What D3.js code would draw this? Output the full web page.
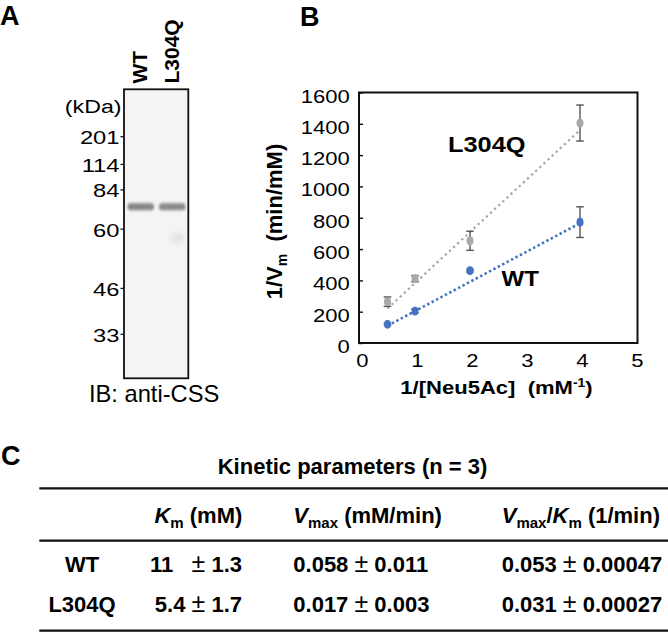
<!DOCTYPE html>
<html><head><meta charset="utf-8">
<script src="https://cdn.jsdelivr.net/npm/d3@7"></script>
<style>
body{margin:0;background:#fff}
svg{display:block}
text{font-family:'Liberation Sans',Arial,Helvetica,sans-serif;white-space:pre}
</style>
</head><body>
<svg id="fig" width="668" height="633"></svg>
<script>
// ---------- Panel A data (western blot) ----------
const gelLanes = ["WT", "L304Q"];
const markerKDa = [201, 114, 84, 60, 46, 33];
const markerRf = [0.164, 0.260, 0.348, 0.484, 0.689, 0.848];
const bandRf = [0.406, 0.406];
const bandDarkness = [0.6, 0.58];
const smearRf = [0, 0.515];
const smearDarkness = [0, 0.07];

// ---------- Panel B data (Lineweaver-Burk) ----------
const invSubstrate = [0.5, 1, 2, 4];
const wtInvV = [119, 204, 462, 772];
const wtErr = [6, 12, 8, 98];
const mutInvV = [264, 411, 653, 1405];
const mutErr = [30, 20, 61, 115];
const trendX = [0.5, 4];
const wtTrendY = [110, 765];
const mutTrendY = [220, 1360];
const xTicks = [0, 1, 2, 3, 4, 5];
const yTicks = [0, 200, 400, 600, 800, 1000, 1200, 1400, 1600];

// ---------- Panel C data (table) ----------
const tableTitle = "Kinetic parameters (n = 3)";
const rowNames = ["WT", "L304Q"];
const kmVal = ["11", "5.4"];
const kmErr = ["1.3", "1.7"];
const vmaxVal = ["0.058", "0.017"];
const vmaxErr = ["0.011", "0.003"];
const effVal = ["0.053", "0.031"];
const effErr = ["0.00047", "0.00027"];

const svg = d3.select("#fig");
const defs = svg.append("defs");
defs.append("filter").attr("id", "blurBand").attr("x", "-20%").attr("y", "-150%").attr("width", "140%").attr("height", "400%")
  .append("feGaussianBlur").attr("stdDeviation", "1.2 1.6");
defs.append("filter").attr("id", "blurSmear").attr("x", "-40%").attr("y", "-150%").attr("width", "180%").attr("height", "400%")
  .append("feGaussianBlur").attr("stdDeviation", "2 3");

function label(g, x, y, str, o) {
  o = o || {};
  return g.append("text")
    .attr("transform", `translate(${x},${y}) scale(${o.sx || 1},1)`)
    .attr("font-size", o.size || 19)
    .attr("font-weight", o.weight || 400)
    .attr("text-anchor", o.anchor || "start")
    .attr("fill", "#000")
    .text(str);
}

// Panel letters
label(svg, 0, 25, "A", {size: 27, weight: 700});
label(svg, 300, 26, "B", {size: 27, weight: 700});
label(svg, 1, 465, "C", {size: 27, weight: 700});

// ================= Panel A =================
const gA = svg.append("g");
const gelTop = 89.3, gelBottom = 378.3, gelLeft = 124, gelRight = 188.3;
const gy = d3.scaleLinear().domain([0, 1]).range([gelTop, gelBottom]);
const lane = d3.scaleBand().domain(gelLanes).range([127, 186]).paddingInner(0.13);

gA.append("rect").attr("x", gelLeft).attr("y", gelTop)
  .attr("width", gelRight - gelLeft).attr("height", gelBottom - gelTop)
  .attr("fill", "#f4f4f4").attr("stroke", "none");

gelLanes.forEach((ln, i) => {
  if (smearDarkness[i] > 0) {
    gA.append("ellipse").attr("cx", lane(ln) + lane.bandwidth() / 2 + 5).attr("cy", gy(smearRf[i]))
      .attr("rx", lane.bandwidth() / 2 - 6).attr("ry", 5)
      .attr("fill", "#000").attr("opacity", smearDarkness[i]).attr("filter", "url(#blurSmear)");
  }
  gA.append("rect").attr("x", lane(ln) + 0.5).attr("y", gy(bandRf[i]) - 3.5)
    .attr("width", lane.bandwidth() - 1).attr("height", 7).attr("rx", 3)
    .attr("fill", "#3a3a3a").attr("opacity", bandDarkness[i]).attr("filter", "url(#blurBand)");
});

gA.append("rect").attr("x", gelLeft).attr("y", gelTop)
  .attr("width", gelRight - gelLeft).attr("height", gelBottom - gelTop)
  .attr("fill", "none").attr("stroke", "#111").attr("stroke-width", 1.8);

gelLanes.forEach(ln => {
  gA.append("text")
    .attr("transform", `translate(${lane(ln) + lane.bandwidth() / 2 + 6.5},83.5) rotate(-90)`)
    .attr("font-size", 21).attr("font-weight", 700).text(ln);
});

markerKDa.forEach((m, i) => {
  const yy = gy(markerRf[i]);
  gA.append("line").attr("x1", 120.5).attr("x2", gelLeft).attr("y1", yy).attr("y2", yy)
    .attr("stroke", "#111").attr("stroke-width", 1.3);
  label(gA, 119.5, yy + 7.6, String(m), {size: 19, sx: 1.25, anchor: "end"});
});
label(gA, 121.5, 113, "(kDa)", {size: 19, sx: 1.22, anchor: "end"});
label(gA, 89, 402, "IB: anti-CSS", {size: 23, sx: 1.03});

// ================= Panel B =================
const gB = svg.append("g");
const x = d3.scaleLinear().domain([0, 5]).range([360, 635]);
const y = d3.scaleLinear().domain([0, 1600]).range([343, 92.5]);
const SX = 1.16;
const fmt = d3.format("d");

const ya = gB.append("g").attr("transform", `translate(${x(0) - 1},0)`)
  .call(d3.axisLeft(y).tickValues(yTicks).tickFormat(fmt).tickSize(-4).tickPadding(8));
ya.select(".domain").remove();
ya.attr("font-family", null);
ya.selectAll(".tick line").attr("stroke", "#111").attr("stroke-width", 1.4);
ya.selectAll(".tick text").attr("font-size", 19).attr("fill", "#000")
  .attr("dy", "0.5em").attr("transform", `scale(${SX},1)`);

const xa = gB.append("g").attr("transform", `translate(0,${y(0)})`)
  .call(d3.axisBottom(x).tickValues(xTicks).tickFormat(fmt).tickSize(0).tickPadding(11));
xa.select(".domain").remove();
xa.attr("font-family", null);
xa.selectAll(".tick text").attr("font-size", 19).attr("fill", "#000")
  .attr("transform", `translate(2,0) scale(${SX},1)`);

gB.append("rect").attr("x", x(0) - 1).attr("y", y(1600))
  .attr("width", x(5) + 2.5 - (x(0) - 1)).attr("height", y(0) - y(1600))
  .attr("fill", "none").attr("stroke", "#111").attr("stroke-width", 2);

const line = d3.line().x(d => x(d[0])).y(d => y(d[1]));
gB.append("path").datum(trendX.map((t, i) => [t, mutTrendY[i]]))
  .attr("d", line).attr("fill", "none").attr("stroke", "#a3a3a3")
  .attr("stroke-width", 2.2).attr("stroke-dasharray", "2.2 3.4");
gB.append("path").datum(trendX.map((t, i) => [t, wtTrendY[i]]))
  .attr("d", line).attr("fill", "none").attr("stroke", "#4472c4")
  .attr("stroke-width", 2.6).attr("stroke-dasharray", "2.4 2.6");

function series(means, errs, color) {
  const g = gB.append("g");
  const data = invSubstrate.map((c, i) => ({c, m: means[i], e: errs[i]}));
  const eb = g.selectAll(".eb").data(data).enter().append("g");
  eb.append("line").attr("x1", d => x(d.c)).attr("x2", d => x(d.c))
    .attr("y1", d => y(d.m - d.e)).attr("y2", d => y(d.m + d.e))
    .attr("stroke", "#555").attr("stroke-width", 1.4);
  [1, -1].forEach(s => {
    eb.append("line").attr("x1", d => x(d.c) - 3.8).attr("x2", d => x(d.c) + 3.8)
      .attr("y1", d => y(d.m + s * d.e)).attr("y2", d => y(d.m + s * d.e))
      .attr("stroke", "#555").attr("stroke-width", 1.4);
  });
  g.selectAll("ellipse").data(data).enter().append("ellipse")
    .attr("cx", d => x(d.c)).attr("cy", d => y(d.m))
    .attr("rx", 3.5).attr("ry", 4.4).attr("fill", color);
}
series(mutInvV, mutErr, "#a9a9a9");
series(wtInvV, wtErr, "#4472c4");

label(gB, 448, 152, "L304Q", {size: 21.5, weight: 700, sx: 1.18});
label(gB, 501.5, 286, "WT", {size: 21.5, weight: 700, sx: 1.12});

const yt = gB.append("text").attr("transform", "translate(281.5,221.5) rotate(-90)")
  .attr("text-anchor", "middle").attr("font-size", 22).attr("font-weight", 700);
yt.append("tspan").text("1/V");
yt.append("tspan").attr("font-size", 14).attr("dy", 5).text("m");
yt.append("tspan").attr("dy", -5).text("  (min/mM)");

const xt = gB.append("text").attr("transform", `translate(496.5,394) scale(${SX},1)`)
  .attr("text-anchor", "middle").attr("font-size", 19).attr("font-weight", 700);
xt.append("tspan").text("1/[Neu5Ac]  (mM");
xt.append("tspan").attr("font-size", 12).attr("dy", -7).text("-1");
xt.append("tspan").attr("dy", 7).text(")");

// ================= Panel C =================
const gC = svg.append("g");
label(gC, 352.5, 474.3, tableTitle, {size: 22, weight: 700, anchor: "middle"});
[488.3, 540.7, 630.7].forEach(yy => {
  gC.append("line").attr("x1", 39.3).attr("x2", 668).attr("y1", yy).attr("y2", yy)
    .attr("stroke", "#111").attr("stroke-width", 2.2);
});

function headerCell(xx, anchor, parts) {
  const t = gC.append("text").attr("x", xx).attr("y", 522.5).attr("text-anchor", anchor)
    .attr("font-size", 22).attr("font-weight", 700);
  let shift = 0;
  parts.forEach(p => {
    const ts = t.append("tspan").text(p.t);
    if (p.i) ts.attr("font-style", "italic");
    const target = p.sub ? 5 : 0;
    if (target !== shift) { ts.attr("dy", target - shift); shift = target; }
    if (p.sub) ts.attr("font-size", 15);
  });
}
headerCell(242.3, "end", [{t: "K", i: 1}, {t: "m", sub: 1}, {t: " (mM)"}]);
headerCell(293.3, "start", [{t: "V", i: 1}, {t: "max", sub: 1}, {t: " (mM/min)"}]);
headerCell(501.7, "start", [{t: "V", i: 1}, {t: "max", sub: 1}, {t: "/"}, {t: "K", i: 1}, {t: "m", sub: 1}, {t: " (1/min)"}]);

const maxKmLen = d3.max(kmVal, v => v.length);
const rowY = d3.scalePoint().domain(rowNames).range([572, 612]);
function pmCell(xx, yy, anchor, val, err) {
  const t = gC.append("text").attr("x", xx).attr("y", yy).attr("text-anchor", anchor)
    .attr("font-size", 22).attr("font-weight", 700);
  t.append("tspan").text(val + " ");
  t.append("tspan").attr("font-weight", 400).attr("font-size", 25).text("\u00b1");
  t.append("tspan").text(" " + err);
}
rowNames.forEach((rn, i) => {
  const yy = rowY(rn);
  label(gC, 82, yy, rn, {size: 22, weight: 700, anchor: "middle"});
  pmCell(242, yy, "end", kmVal[i].padEnd(maxKmLen, "\u2007"), kmErr[i]);
  pmCell(293.3, yy, "start", vmaxVal[i], vmaxErr[i]);
  pmCell(501.7, yy, "start", effVal[i], effErr[i]);
});
</script>
</body></html>
